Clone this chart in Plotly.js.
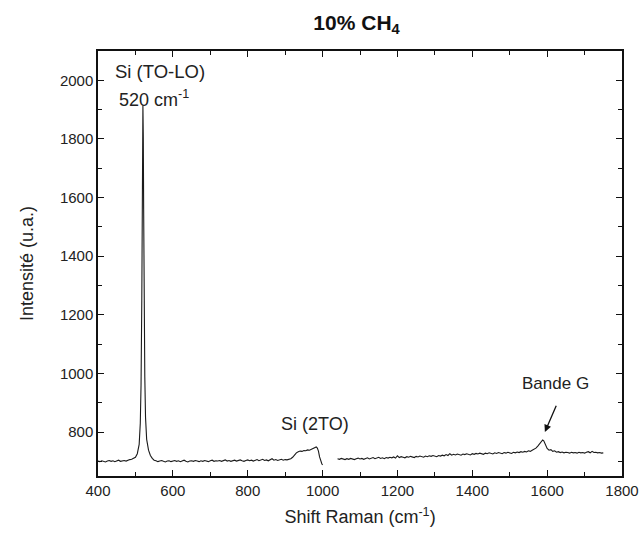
<!DOCTYPE html>
<html>
<head>
<meta charset="utf-8">
<script src="https://cdn.plot.ly/plotly-3.0.1.min.js"></script>
<style>html,body{margin:0;padding:0;background:#fff;}#chart{width:639px;height:535px;}</style>
</head>
<body>
<div id="chart"></div>
<script>
// Segment 1: 400 - 1000 cm-1
const shift1 = [400,405,410,415,420,425,430,435,440,445,450,455,460,465,470,475,480,485,490,495,500,
505,510,513,515,517,518,519,520,521,522,523,525,527,530,535,540,545,550,
555,560,565,570,575,580,585,590,595,600,605,610,615,620,625,630,635,640,645,650,655,660,665,670,675,680,685,690,695,700,
705,710,715,720,725,730,735,740,745,750,755,760,765,770,775,780,785,790,795,800,805,810,815,820,825,830,835,840,845,850,
855,860,865,870,875,880,885,890,895,900,905,910,915,920,925,930,935,940,945,950,955,960,965,970,975,980,983,986,989,992,995,998,1000];
const int1 = [701,699,702,700,698,701,703,700,702,699,701,704,700,702,703,701,704,706,707,710,714,
726,758,830,960,1250,1500,1780,1915,1810,1560,1290,990,850,775,738,720,710,704,
702,699,701,703,700,698,701,702,699,701,703,700,702,699,701,704,700,698,701,702,700,703,701,699,702,700,703,701,699,702,
704,700,702,701,703,700,702,705,701,703,700,702,704,701,703,705,702,700,703,705,702,704,701,703,706,702,704,707,703,705,
702,706,709,704,706,703,705,707,704,706,705,707,709,714,722,729,733,735,734,737,736,739,738,741,744,747,749,745,735,715,700,692,688];

// Segment 2: 1040 - 1750 cm-1
const shift2 = [1040,1045,1050,1055,1060,1065,1070,1075,1080,1085,1090,1095,1100,1105,1110,1115,1120,1125,1130,1135,1140,1145,1150,1155,1160,1165,1170,1175,1180,1185,1190,1195,
1200,1205,1210,1215,1220,1225,1230,1235,1240,1245,1250,1255,1260,1265,1270,1275,1280,1285,1290,1295,1300,1305,1310,1315,1320,1325,1330,1335,1340,1345,1350,1355,1360,1365,1370,1375,1380,1385,1390,1395,
1400,1405,1410,1415,1420,1425,1430,1435,1440,1445,1450,1455,1460,1465,1470,1475,1480,1485,1490,1495,1500,1505,1510,1515,1520,1525,1530,1535,1540,1545,1550,1555,1560,1565,1570,1575,1580,1585,1588,1591,1594,1597,
1600,1605,1610,1615,1620,1625,1630,1635,1640,1645,1650,1655,1660,1665,1670,1675,1680,1685,1690,1695,1700,1705,1710,1715,1720,1725,1730,1735,1740,1745,1750];
const int2 = [709,707,710,708,706,709,707,710,708,706,709,711,708,710,707,709,712,708,710,713,709,711,714,710,712,709,713,711,714,712,715,711,
719,713,716,714,712,716,714,717,715,713,717,715,718,716,714,718,716,719,717,720,718,716,720,718,721,719,723,720,726,721,724,722,725,723,721,725,723,726,724,722,
726,724,727,725,728,726,724,728,726,729,727,725,729,727,730,728,726,730,728,731,729,727,731,729,732,730,733,731,734,732,736,734,738,741,745,752,760,768,773,770,762,752,
744,738,740,734,736,731,733,730,732,729,731,730,728,731,729,730,728,731,729,730,728,731,733,729,734,730,731,729,730,728,729];

const xTicks = [400,600,800,1000,1200,1400,1600,1800];
const yTicks = [800,1000,1200,1400,1600,1800,2000];

const xs = shift1.concat([null], shift2);
const ys = int1.concat([null], int2);

const font = "Liberation Sans, Arial, sans-serif";
const INK = '#111111';

function axisStyle() {
  return {
    showline: true, linecolor: INK, linewidth: 1.5, mirror: 'allticks',
    ticks: 'inside', ticklen: 6, tickwidth: 1.3, tickcolor: INK,
    showgrid: false, zeroline: false,
    tickfont: {family: font, size: 15, color: '#222222'}
  };
}

const data = [
  {x: xs, y: ys, type: 'scatter', mode: 'lines', line: {color: '#1a1a1a', width: 1.1}, connectgaps: false, hoverinfo: 'skip'}
];

const layout = {
  width: 639, height: 535,
  margin: {l: 98, r: 17, t: 51, b: 59},
  paper_bgcolor: '#ffffff', plot_bgcolor: '#ffffff',
  showlegend: false,
  title: {text: '<b>10% CH<sub>4</sub></b>', font: {family: font, size: 21, color: INK}, x: 0.558, xanchor: 'center', y: 0.958, yanchor: 'middle'},
  xaxis: Object.assign(axisStyle(), {
    range: [400, 1800], tickvals: xTicks, ticktext: xTicks.map(String),
    minor: {dtick: 100, tick0: 400, ticks: 'inside', ticklen: 4, tickwidth: 1.3, tickcolor: INK},
    title: {text: 'Shift Raman (cm<sup>-1</sup>)', font: {family: font, size: 18, color: '#222222'}, standoff: 13}
  }),
  yaxis: Object.assign(axisStyle(), {
    range: [650, 2100], tickvals: yTicks, ticktext: yTicks.map(String),
    minor: {dtick: 100, tick0: 700, ticks: 'inside', ticklen: 4, tickwidth: 1.3, tickcolor: INK},
    title: {text: 'Intensité (u.a.)', font: {family: font, size: 18, color: '#222222'}, standoff: 22}
  }),
  annotations: [
    {x: 566, y: 2031, xref: 'x', yref: 'y', text: 'Si (TO-LO)', showarrow: false, font: {family: font, size: 18.5, color: '#222222'}},
    {x: 550, y: 1939, xref: 'x', yref: 'y', text: '520 cm<sup>-1</sup>', showarrow: false, font: {family: font, size: 18, color: '#222222'}},
    {x: 980, y: 827, xref: 'x', yref: 'y', text: 'Si (2TO)', showarrow: false, font: {family: font, size: 18, color: '#222222'}},
    {x: 1621, y: 967, xref: 'x', yref: 'y', text: 'Bande G', showarrow: false, font: {family: font, size: 17, color: '#222222'}},
    {x: 1594, y: 800, xref: 'x', yref: 'y', ax: 1626, ay: 895, axref: 'x', ayref: 'y', text: '', showarrow: true,
     arrowhead: 2, arrowsize: 1.1, arrowwidth: 1.3, arrowcolor: INK}
  ]
};

Plotly.newPlot('chart', data, layout, {displayModeBar: false});
</script>
</body>
</html>
